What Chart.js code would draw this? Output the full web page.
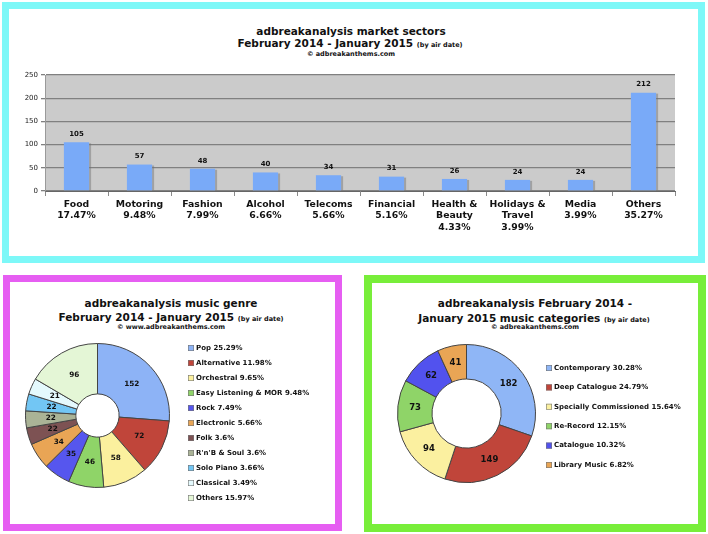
<!DOCTYPE html>
<html>
<head>
<meta charset="utf-8">
<script src="https://cdn.jsdelivr.net/npm/chart.js@4.4.0/dist/chart.umd.min.js"></script>
<style>
body{margin:0;width:708px;height:534px;background:#fff;position:relative;overflow:hidden;font-family:'DejaVu Sans',Verdana,sans-serif;}
.panel{position:absolute;box-sizing:border-box;background:#fff;}
#p1{left:2px;top:2px;width:703px;height:261px;border:7px solid #7df8f8;}
#p2{left:3px;top:275px;width:339px;height:256px;border:7px solid #e65ef2;}
#p3{left:364px;top:275px;width:342px;height:257px;border:8px solid #78ee3a;}
.t{position:absolute;white-space:nowrap;font-weight:bold;color:#111;transform:translateX(-50%);}
.big{font-size:10.5px;line-height:12px;}
.sm{font-size:6.5px;line-height:8px;}
.t .sm{line-height:12px;}
canvas{position:absolute;}
</style>
</head>
<body>
<div class="panel" id="p1"></div>
<div class="panel" id="p2"></div>
<div class="panel" id="p3"></div>

<div class="t big" style="left:351px;top:25px">adbreakanalysis market sectors</div>
<div class="t big" style="left:350px;top:37px">February 2014 - January 2015 <span class="sm">(by air date)</span></div>
<div class="t sm" style="left:351px;top:50px">© adbreakanthems.com</div>

<div class="t big" style="left:171px;top:297px">adbreakanalysis music genre</div>
<div class="t big" style="left:171px;top:311px">February 2014 - January 2015 <span class="sm">(by air date)</span></div>
<div class="t sm" style="left:171px;top:323px">© www.adbreakanthems.com</div>

<div class="t big" style="left:535px;top:297px">adbreakanalysis February 2014 -</div>
<div class="t big" style="left:534px;top:312px">January 2015 music categories <span class="sm">(by air date)</span></div>
<div class="t sm" style="left:535px;top:323px">© adbreakanthems.com</div>

<canvas id="barChart" width="690" height="195" style="left:9px;top:60px"></canvas>
<canvas id="genreChart" width="325" height="185" style="left:10px;top:335px"></canvas>
<canvas id="catChart" width="326" height="187" style="left:372px;top:335px"></canvas>

<script>
// ---------- data ----------
const sectors = ['Food','Motoring','Fashion','Alcohol','Telecoms','Financial','Health & Beauty','Holidays & Travel','Media','Others'];
const sectorCounts = [105,57,48,40,34,31,26,24,24,212];
const sectorPct = ['17.47%','9.48%','7.99%','6.66%','5.66%','5.16%','4.33%','3.99%','3.99%','35.27%'];
const yTicks = [0,50,100,150,200,250];

const genres = ['Pop','Alternative','Orchestral','Easy Listening & MOR','Rock','Electronic','Folk',"R'n'B & Soul",'Solo Piano','Classical','Others'];
const genreCounts = [152,72,58,46,35,34,22,22,22,21,96];
const genrePct = ['25.29%','11.98%','9.65%','9.48%','7.49%','5.66%','3.6%','3.6%','3.66%','3.49%','15.97%'];
const genreColors = ['#8db3f6','#c0453a','#fbf09e','#8fd468','#5656ee','#e9a555','#7d5253','#aab396','#72c6f4','#e4f9fd','#e4f6d6'];

const musicCats = ['Contemporary','Deep Catalogue','Specially Commissioned','Re-Record','Catalogue','Library Music'];
const musicCatCounts = [182,149,94,73,62,41];
const musicCatPct = ['30.28%','24.79%','15.64%','12.15%','10.32%','6.82%'];
const musicCatColors = ['#8fb6f6','#c0453a','#fbf0a0','#8fd468','#5252ee','#e9a555'];

Chart.defaults.font.family = "'DejaVu Sans', Verdana, sans-serif";
Chart.defaults.animation = false;

/* ---------- plugins ---------- */
const plotBg = {
  id:'plotBg',
  beforeDraw(chart){
    const a = chart.chartArea, ctx = chart.ctx;
    ctx.save(); ctx.fillStyle = '#cbcbcb';
    ctx.fillRect(a.left, a.top, a.right-a.left, a.bottom-a.top);
    ctx.restore();
  }
};
// soft shadow at the right side of each bar
const barShadow = {
  id:'barShadow',
  beforeDatasetsDraw(chart){
    const ctx = chart.ctx;
    ctx.save(); ctx.fillStyle = 'rgba(110,110,110,0.45)';
    chart.getDatasetMeta(0).data.forEach(bar=>{
      ctx.fillRect(bar.x - bar.width/2 + 2, bar.y + 1, bar.width, bar.base - bar.y - 1);
    });
    ctx.restore();
  }
};
const barValues = {
  id:'barValues',
  afterDatasetsDraw(chart){
    const ctx = chart.ctx, ds = chart.data.datasets[0];
    ctx.save();
    ctx.font = "bold 7px 'DejaVu Sans'"; ctx.fillStyle = '#111';
    ctx.textAlign = 'center'; ctx.textBaseline = 'middle';
    chart.getDatasetMeta(0).data.forEach((bar,i)=> ctx.fillText(ds.data[i], bar.x, bar.y-8));
    ctx.restore();
  }
};
const sliceLabels = {
  id:'sliceLabels',
  afterDatasetsDraw(chart, args, opts){
    const ctx = chart.ctx, ds = chart.data.datasets[0];
    ctx.save();
    ctx.font = `bold ${opts.size}px 'DejaVu Sans'`; ctx.fillStyle = '#111';
    ctx.textAlign = 'center'; ctx.textBaseline = 'middle';
    chart.getDatasetMeta(0).data.forEach((arc,i)=>{
      const p = arc.getCenterPoint();
      ctx.fillText(ds.data[i], p.x, p.y);
    });
    ctx.restore();
  }
};
const boxLegend = {
  id:'boxLegend',
  afterDraw(chart, args, o){
    const ctx = chart.ctx, ds = chart.data.datasets[0];
    ctx.save();
    ctx.font = "bold 7px 'DejaVu Sans'"; ctx.textBaseline = 'middle';
    chart.data.labels.forEach((l,i)=>{
      const y = o.y + i*o.step;
      ctx.fillStyle = ds.backgroundColor[i];
      ctx.fillRect(o.x, y-3, 6, 6);
      ctx.strokeStyle = '#777'; ctx.lineWidth = 0.6;
      ctx.strokeRect(o.x+0.3, y-2.7, 5.4, 5.4);
      ctx.fillStyle = '#111';
      ctx.fillText(l + ' ' + o.pct[i], o.x+8, y);
    });
    ctx.restore();
  }
};

/* ---------- bar chart ---------- */
function splitName(n){ return n.split(/(?<=&) /); }
new Chart(document.getElementById('barChart'), {
  type:'bar',
  data:{
    labels: sectors.map((n,i)=> splitName(n).concat(sectorPct[i])),
    datasets:[{data:sectorCounts, backgroundColor:'#79aaf8', barPercentage:0.4, categoryPercentage:1}]
  },
  options:{
    responsive:false,
    layout:{padding:{top:15,right:24,left:0,bottom:0}},
    plugins:{legend:{display:false}, tooltip:{enabled:false}},
    scales:{
      x:{
        grid:{offset:true, drawOnChartArea:false, tickLength:5, color:'#8a8a8a'},
        border:{color:'#666'},
        ticks:{font:{weight:'bold', size:9.3, lineHeight:1.22}, color:'#111', padding:3, maxRotation:0, autoSkip:false},
        afterFit(s){ s.height = 64; }
      },
      y:{
        min:0, max:250,
        afterBuildTicks(s){ s.ticks = yTicks.map(v=>({value:v})); },
        ticks:{font:{size:7}, color:'#222', padding:3},
        grid:{color:'#808080', lineWidth:1.3, tickLength:4},
        border:{color:'#9a9a9a'},
        afterFit(s){ s.width = 36; }
      }
    }
  },
  plugins:[plotBg, barShadow, barValues]
});

/* ---------- genre doughnut ---------- */
new Chart(document.getElementById('genreChart'), {
  type:'doughnut',
  data:{labels:genres, datasets:[{data:genreCounts, backgroundColor:genreColors, borderColor:'#444', borderWidth:1}]},
  options:{
    responsive:false, cutout:'30%',
    layout:{padding:{left:15, top:8, right:165, bottom:32}},
    plugins:{legend:{display:false}, tooltip:{enabled:false},
      sliceLabels:{size:7.3},
      boxLegend:{x:178, y:13, step:15, pct:genrePct}}
  },
  plugins:[sliceLabels, boxLegend]
});

/* ---------- music categories doughnut ---------- */
new Chart(document.getElementById('catChart'), {
  type:'doughnut',
  data:{labels:musicCats, datasets:[{data:musicCatCounts, backgroundColor:musicCatColors, borderColor:'#444', borderWidth:1}]},
  options:{
    responsive:false, cutout:'50%',
    layout:{padding:{left:25, top:9, right:162, bottom:39}},
    plugins:{legend:{display:false}, tooltip:{enabled:false},
      sliceLabels:{size:8.5},
      boxLegend:{x:174, y:33, step:19.4, pct:musicCatPct}}
  },
  plugins:[sliceLabels, boxLegend]
});
</script>
</body>
</html>
